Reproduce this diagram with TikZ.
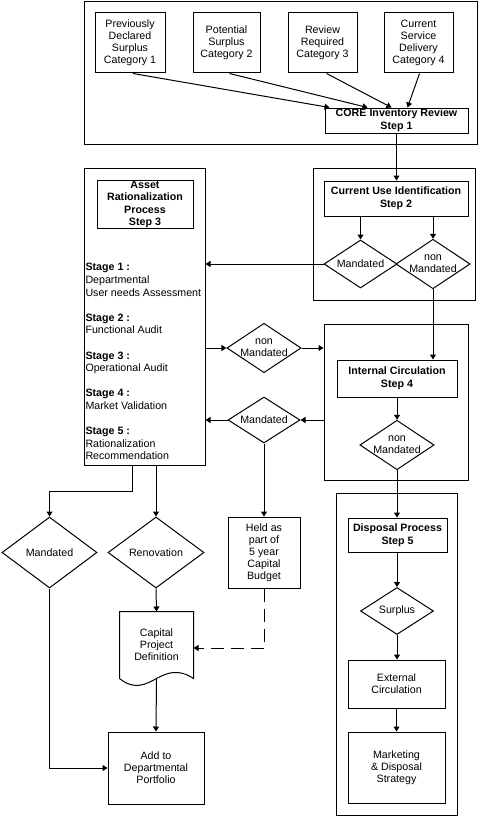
\documentclass[tikz,border=0pt]{standalone}
\usepackage{fontspec}
\setmainfont{Liberation Sans}
\usetikzlibrary{shapes.geometric,arrows.meta,calc}
\newcommand\PX{0.75pt}
\newcommand\XM{264}
\newcommand\XS{397}

\begin{document}
\begin{tikzpicture}
  [x=\PX, y=-\PX, line width=\PX,
   font=\fontsize{8}{9}\selectfont,
   sz/.style 2 args = {
     minimum width=#1*\PX, minimum height=#2*\PX
   },
   frame/.style = {
     draw, inner sep=0pt
   },
   box/.style = {
     draw, align=center, inner sep=0pt
   },
   title/.style = {
     box, font=\fontsize{8}{9.45}\selectfont\bfseries
   },
   decision/.style = {
     draw, diamond, shape aspect=1.5, align=center, inner sep=0pt
   },
   wire/.style = {
     -{Triangle[length=3.75pt,width=4.5pt]}
   }]

  \useasboundingbox (0,0) rectangle (481,817);

  % Inventory categories.
  \node[frame, sz={393}{142}] at (280.5,73) (topframe) {};
  \node[box, sz={70}{60}] at (130,43) (cat1) {Previously\\Declared\\Surplus\\Category 1};
  \node[box, sz={67}{60}] at (226.5,43) (cat2) {Potential\\Surplus\\Category 2};
  \node[box, sz={69}{60}] at (322.5,43) (cat3) {Review\\Required\\Category 3};
  \node[box, sz={69}{60}] at (418.5,43) (cat4) {Current\\Service\\Delivery\\Category 4};
  \node[title, sz={143}{25}] at (396.5,120.5) (core) {CORE Inventory Review\\Step 1};

  % Current use identification.
  \node[frame, sz={162}{132}] at (394,234) (useframe) {};
  \node[title, sz={144}{35}] at (396,198.5) (step2) {Current Use Identification\\Step 2};
  \node[decision, sz={73}{48}] at (360.5,264) (mand2) {Mandated};
  \node[decision, sz={72}{48}] at (433,264) (nonm2) {non\\Mandated};

  % Asset rationalization.
  \node[frame, sz={121}{297}] at (144.5,316.5) (asset) {};
  \node[title, sz={96}{47}] at (145,204.5) (step3) {Asset\\Rationalization\\Process\\Step 3};
  \node[anchor=north west, align=left, inner sep=0pt, font=\fontsize{8}{9.45}\selectfont]
    at (85,263) (stages) {\textbf{Stage 1 :}\\Departmental\\User needs Assessment\\[9.45pt]
    \textbf{Stage 2 :}\\Functional Audit\\[9.45pt]
    \textbf{Stage 3 :}\\Operational Audit\\[9.45pt]
    \textbf{Stage 4 :}\\Market Validation\\[9.45pt]
    \textbf{Stage 5 :}\\Rationalization\\Recommendation};

  % Middle decisions.
  \node[decision, sz={72}{48}] at (\XM,348) (nonm3) {non\\Mandated};
  \node[decision, sz={72}{46}] at (\XM,420) (mand3) {Mandated};

  % Internal circulation.
  \node[frame, sz={144}{156}] at (396,402) (circframe) {};
  \node[title, sz={120}{37}] at (397,378.5) (step4) {Internal Circulation\\Step 4};
  \node[decision, sz={73}{46}] at (\XS,445) (nonm4) {non\\Mandated};

  % Disposal.
  \node[frame, sz={121}{322}] at (396.5,654) (dispframe) {};
  \node[title, sz={99}{34}] at (397.5,535) (step5) {Disposal Process\\Step 5};
  \node[decision, sz={73}{47}] at (\XS,611) (surplus) {Surplus};
  \node[box, sz={97}{48}] at (396.5,684) (extcirc) {External\\Circulation};
  \node[box, sz={97}{71}] at (396.5,767.5) (mktg) {Marketing\\\& Disposal\\Strategy};

  % Outcomes.
  \node[decision, sz={95}{71}] at (49.5,552.5) (mand5) {Mandated};
  \node[decision, sz={96}{71}] at (156,552.5) (reno) {Renovation};
  \node[box, sz={72}{71}] at (\XM,552.5) (held) {Held as\\part of\\5 year\\Capital\\Budget};
  \node[align=center, inner sep=0pt, sz={73}{66}] at (156.5,645) (capdoc) {Capital\\Project\\Definition};
  \draw (capdoc.south west) -- (capdoc.north west) -- (capdoc.north east) -- (capdoc.south east)
    .. controls ($(capdoc.south east)+(-15,-10)$) and ($(capdoc.south)+(11,-6)$) .. (capdoc.south)
    .. controls ($(capdoc.south)+(-11,6)$) and ($(capdoc.south west)+(15,12)$) .. (capdoc.south west);
  \node[box, sz={96}{72}] at (156,768) (addport) {Add to\\Departmental\\Portfolio};

  % Into the inventory review.
  \draw[wire] ($(cat1.south)+(3,0)$) -- ($(core.north west)+(5,0)$);
  \draw[wire] ($(cat2.south)+(3,0)$) -- ($(core.north west)+(43,0)$);
  \draw[wire] ($(cat3.south)+(4,0)$) -- ($(core.north west)+(67,0)$);
  \draw[wire] ($(cat4.south)+(1,0)$) -- ($(core.north west)+(83,0)$);
  \draw[wire] (core.south) -- (core.south |- step2.north);

  % Step 2 branches.
  \draw[wire] (mand2 |- step2.south) -- (mand2.north);
  \draw[wire] (nonm2 |- step2.south) -- (nonm2.north);
  \draw[wire] (mand2.west) -- (mand2.west -| asset.east);
  \draw[wire] (nonm2.south) -- (nonm2.south |- step4.north);

  % Between step 3 and step 4.
  \draw[wire] (nonm3.west -| asset.east) -- (nonm3.west);
  \draw[wire] (nonm3.east) -- (nonm3.east -| circframe.west);
  \draw[wire] (mand3.east -| circframe.west) -- (mand3.east);
  \draw[wire] (mand3.west) -- (mand3.west -| asset.east);
  \draw[wire] (mand3.south) -- (held.north);

  % Step 4 and step 5.
  \draw[wire] (step4.south) -- (nonm4.north);
  \draw[wire] (nonm4.south) -- (nonm4.south |- step5.north);
  \draw[wire] (step5.south -| surplus) -- (surplus.north);
  \draw[wire] (surplus.south) -- (surplus.south |- extcirc.north);
  \draw[wire] (extcirc.south) -- (mktg.north);

  % Out of step 3.
  \draw[wire] ($(asset.south west)+(49,0)$) |- ($(mand5.north)+(0,-25)$) -- (mand5.north);
  \draw[wire] (reno.north |- asset.south) -- (reno.north);
  \draw[wire] (reno.south) -- (capdoc.north);
  \draw[wire] (capdoc.south) -- (addport.north);
  \draw[wire] (mand5.south) |- (addport.west);
  \draw[wire, dash pattern=on 9.75pt off 5.25pt] (held.south) |- ($(capdoc.east)+(0,3)$);

\end{tikzpicture}
\end{document}
